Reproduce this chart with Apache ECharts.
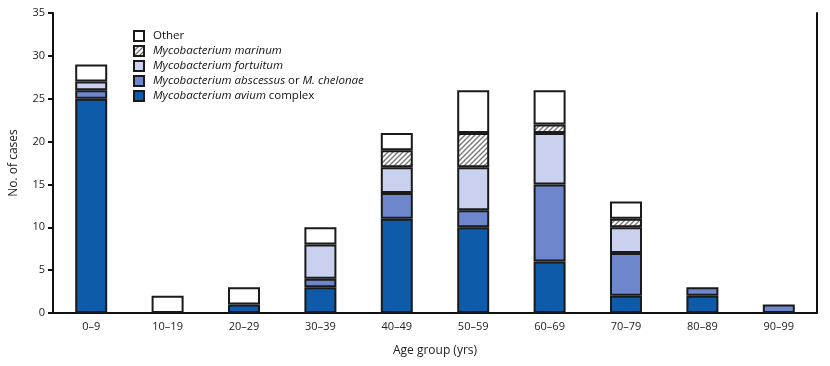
<!DOCTYPE html>
<html><head><meta charset="utf-8">
<script src="https://cdn.jsdelivr.net/npm/echarts@6/dist/echarts.min.js"></script>
<style>html,body{margin:0;padding:0;background:#fff}#c{width:830px;height:366px}</style>
</head><body><div id="c"></div>
<script>
const categories = ['0–9','10–19','20–29','30–39','40–49','50–59','60–69','70–79','80–89','90–99'];
const avium     = [25,0,1,3,11,10,6,2,2,0];
const abscessus = [1,0,0,1,3,2,9,5,1,1];
const fortuitum = [1,0,0,4,3,5,6,3,0,0];
const marinum   = [0,0,0,0,2,4,1,1,0,0];
const other     = [2,2,2,2,2,5,4,2,0,0];
const yTicks = [0,5,10,15,20,25,30,35];

function hatch(){
  const c = document.createElement('canvas');
  c.width = 5; c.height = 5;
  const g = c.getContext('2d');
  g.fillStyle = '#fff'; g.fillRect(0,0,5,5);
  g.strokeStyle = '#777'; g.lineWidth = 1.4;
  g.beginPath();
  g.moveTo(-1,6); g.lineTo(6,-1);
  g.moveTo(-1,1); g.lineTo(1,-1);
  g.moveTo(4,6); g.lineTo(6,4);
  g.stroke();
  return c;
}
const names = ['avium','abscessus','fortuitum','marinum','other'];
const labels = {
  avium: '{i|Mycobacterium avium} {n|complex}',
  abscessus: '{i|Mycobacterium abscessus} {n|or} {i|M. chelonae}',
  fortuitum: '{i|Mycobacterium fortuitum}',
  marinum: '{i|Mycobacterium marinum}',
  other: '{n|Other}'
};
const colors = {
  avium: '#0d5ba9', abscessus: '#6e86cc', fortuitum: '#c9d1ee',
  marinum: {image: hatch(), repeat: 'repeat'}, other: '#ffffff'
};
const dataMap = {avium, abscessus, fortuitum, marinum, other};
const font = '"Open Sans", "Noto Sans", sans-serif';

const chart = echarts.init(document.getElementById('c'), null, {renderer:'canvas'});
chart.setOption({
  animation: false,
  textStyle: {fontFamily: font},
  grid: {left: 47, right: 13, top: 13, bottom: 53, containLabel: false},
  legend: {
    orient: 'vertical', left: 128, top: 25, itemGap: 3,
    itemWidth: 10, itemHeight: 10, icon: 'rect',
    data: ['other','marinum','fortuitum','abscessus','avium'],
    formatter: n => labels[n],
    textStyle: {
      fontSize: 11, color: '#111', padding: [0,0,0,4],
      rich: {
        i: {fontStyle: 'italic', fontSize: 11.5, color: '#111', fontFamily: font},
        n: {fontSize: 11.5, color: '#111', fontFamily: font}
      }
    }
  },
  xAxis: {
    type: 'category', data: categories,
    name: 'Age group (yrs)', nameLocation: 'middle', nameGap: 32,
    nameTextStyle: {fontSize: 12, color: '#222'},
    axisLine: {lineStyle: {color: '#111', width: 2}},
    axisTick: {alignWithLabel: true, length: 5, lineStyle: {color:'#111', width: 2}},
    axisLabel: {fontSize: 11, color: '#222', margin: 8}
  },
  yAxis: [{
    type: 'value', min: 0, max: 35, interval: 5,
    name: 'No. of cases', nameLocation: 'middle', nameGap: 33,
    nameTextStyle: {fontSize: 12, color: '#222'},
    axisLine: {show: true, lineStyle: {color: '#111', width: 2}},
    axisTick: {show: true, length: 5, lineStyle: {color:'#111', width: 2}},
    axisLabel: {fontSize: 11, color: '#222', margin: 8,
      formatter: v => yTicks.includes(v) ? String(v) : ''},
    splitLine: {show: false}
  },{
    type: 'value', min: 0, max: 35, interval: 5, position: 'right',
    axisLine: {show: true, lineStyle: {color: '#111', width: 2}},
    axisTick: {show: false}, axisLabel: {show: false}, splitLine: {show: false}
  }],
  series: names.map(n => ({
    name: n, type: 'bar', stack: 'all', barWidth: 32,
    data: dataMap[n].map(v => v === 0 ? null : v),
    itemStyle: {color: colors[n], borderColor: '#1a1a1a', borderWidth: 2}
  }))
});
</script></body></html>
